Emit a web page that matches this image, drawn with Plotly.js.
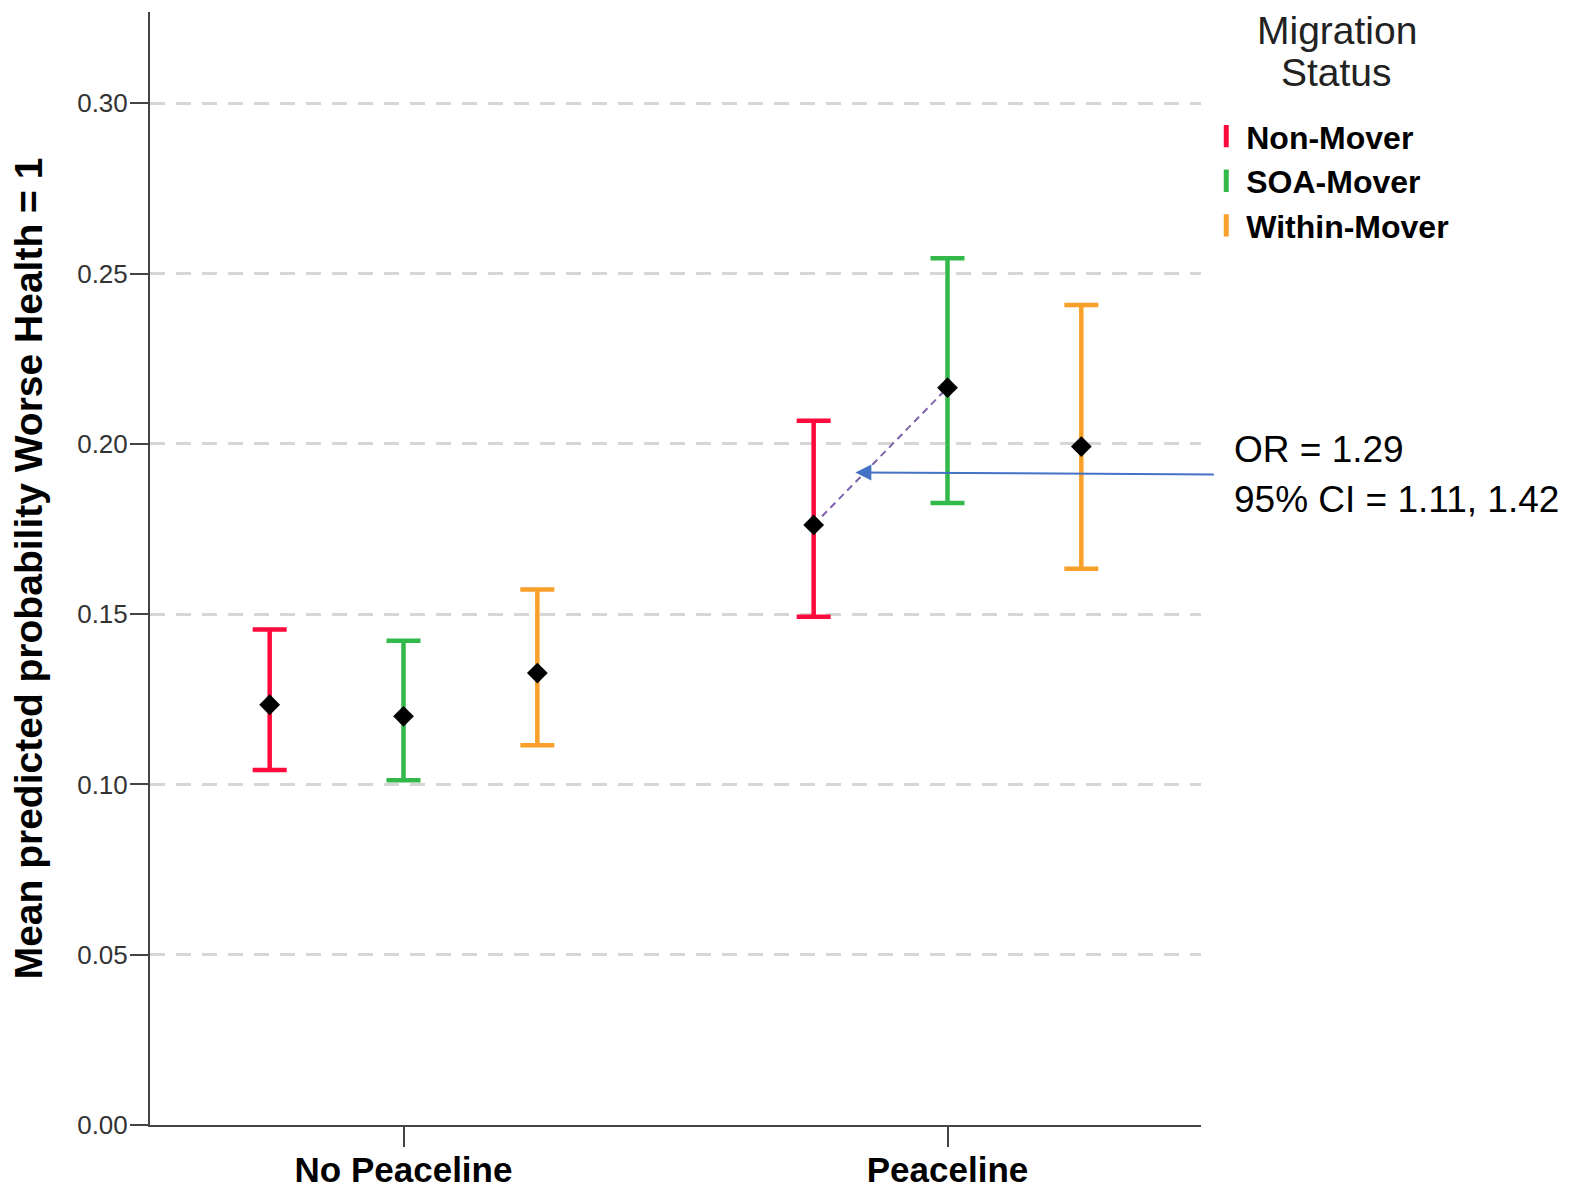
<!DOCTYPE html>
<html>
<head>
<meta charset="utf-8">
<script src="https://cdn.plot.ly/plotly-3.0.1.min.js"></script>
<style>html,body{margin:0;padding:0;background:#fff;}#chart{width:1573px;height:1190px;}</style>
</head>
<body>
<div id="chart"></div>
<script>
// ---- data ----
const categories = ['No Peaceline', 'Peaceline'];
const seriesNames = ['Non-Mover', 'SOA-Mover', 'Within-Mover'];
const nonMoverMean = [0.1234, 0.1762];
const nonMoverLow  = [0.1042, 0.1492];
const nonMoverHigh = [0.1455, 0.2068];
const soaMoverMean = [0.1200, 0.2165];
const soaMoverLow  = [0.1012, 0.1826];
const soaMoverHigh = [0.1422, 0.2545];
const withinMoverMean = [0.1327, 0.1992];
const withinMoverLow  = [0.1115, 0.1633];
const withinMoverHigh = [0.1572, 0.2408];
const yTickVals = [0, 0.05, 0.10, 0.15, 0.20, 0.25, 0.30];
const legendTitleLines = ['Migration', 'Status'];
const annotationLines = ['OR = 1.29', '95% CI = 1.11, 1.42'];

// ---- styling ----
const colors = ['#FF0A3C', '#33B94A', '#F9A02A'];
const groupOffset = 0.246;
const means = [nonMoverMean, soaMoverMean, withinMoverMean];
const lows = [nonMoverLow, soaMoverLow, withinMoverLow];
const highs = [nonMoverHigh, soaMoverHigh, withinMoverHigh];
const catIdx = categories.map((c, i) => i);

const traces = [];
seriesNames.forEach((name, s) => {
  const off = (s - 1) * groupOffset;
  traces.push({
    type: 'scatter', mode: 'markers', name: name, showlegend: false,
    x: catIdx.map(i => i + off),
    y: means[s],
    marker: {symbol: 'diamond', size: 16, color: '#000'},
    error_y: {
      type: 'data', symmetric: false,
      array: means[s].map((m, i) => highs[s][i] - m),
      arrayminus: means[s].map((m, i) => m - lows[s][i]),
      color: colors[s], thickness: 4.5, width: 17
    },
    cliponaxis: false
  });
});

// dashed comparison line between Non-Mover and SOA-Mover means in Peaceline
traces.unshift({
  type: 'scatter', mode: 'lines', showlegend: false, hoverinfo: 'skip',
  x: [1 - groupOffset, 1],
  y: [nonMoverMean[1], soaMoverMean[1]],
  line: {color: '#7F63A8', width: 2, dash: '7px,5px'}
});

// legend entries
seriesNames.forEach((name, s) => {
  traces.push({
    type: 'scatter', mode: 'markers', name: name,
    x: [null], y: [null],
    marker: {symbol: 'line-ns-open', size: 26, color: colors[s], line: {color: colors[s], width: 6}}
  });
});

const layout = {
  width: 1573, height: 1190,
  margin: {l: 150, r: 372, t: 12, b: 65},
  paper_bgcolor: '#fff', plot_bgcolor: '#fff',
  font: {family: 'Liberation Sans, Arial, sans-serif', color: '#000'},
  xaxis: {
    range: [-0.466, 1.466],
    tickvals: catIdx, ticktext: categories,
    ticks: 'outside', ticklen: 20, tickwidth: 2, tickcolor: '#444',
    showline: true, linecolor: '#444', linewidth: 2,
    showgrid: false, zeroline: false,
    ticklabelstandoff: -7,
    tickfont: {size: 35, family: 'Liberation Sans, Arial, sans-serif', color: '#000', weight: 'bold'}
  },
  yaxis: {
    range: [0, 0.3268],
    tickvals: yTickVals, tickformat: '.2f',
    ticks: 'outside', ticklen: 18, tickwidth: 2, tickcolor: '#444',
    showline: true, linecolor: '#444', linewidth: 2,
    showgrid: true, gridcolor: '#d6d6d6', gridwidth: 3, griddash: '15px,11px',
    zeroline: false,
    ticklabelstandoff: -3,
    tickfont: {size: 26, color: '#333'},
    title: {text: '<b>Mean predicted probability Worse Health = 1</b>', font: {size: 39, color: '#000'}, standoff: 23}
  },
  legend: {
    x: 1.005, xanchor: 'left', y: 0.913, yanchor: 'top',
    bgcolor: 'rgba(0,0,0,0)',
    font: {size: 32, color: '#000', weight: 'bold'},
    tracegroupgap: 0
  },
  annotations: [
    {
      x: 1.129, y: 1.0, xref: 'paper', yref: 'paper', xanchor: 'center', yanchor: 'middle', yshift: -18,
      text: legendTitleLines[0], showarrow: false,
      font: {size: 39, color: '#222', family: 'Liberation Sans, Arial, sans-serif'}
    },
    {
      x: 1.129, y: 1.0, xref: 'paper', yref: 'paper', xanchor: 'center', yanchor: 'middle', yshift: -60,
      text: legendTitleLines[1], showarrow: false,
      font: {size: 39, color: '#222', family: 'Liberation Sans, Arial, sans-serif'}
    },
    {
      x: 0.8306, y: 0.1916, xref: 'x', yref: 'y',
      ax: 360, ay: 2, axref: 'pixel', ayref: 'pixel',
      showarrow: true, arrowhead: 2, arrowsize: 1.6, arrowwidth: 2, arrowcolor: '#4472C4',
      text: ''
    },
    {
      x: 1.0295, y: 0.1918, xref: 'paper', yref: 'y', xanchor: 'left', yanchor: 'bottom', yshift: 0,
      text: annotationLines[0], showarrow: false,
      font: {size: 37, color: '#000', family: 'Liberation Sans, Arial, sans-serif'}
    },
    {
      x: 1.0295, y: 0.1918, xref: 'paper', yref: 'y', xanchor: 'left', yanchor: 'top', yshift: -5,
      text: annotationLines[1], showarrow: false,
      font: {size: 37, color: '#000', family: 'Liberation Sans, Arial, sans-serif'}
    }
  ]
};

Plotly.newPlot('chart', traces, layout, {staticPlot: true});
</script>
</body>
</html>
